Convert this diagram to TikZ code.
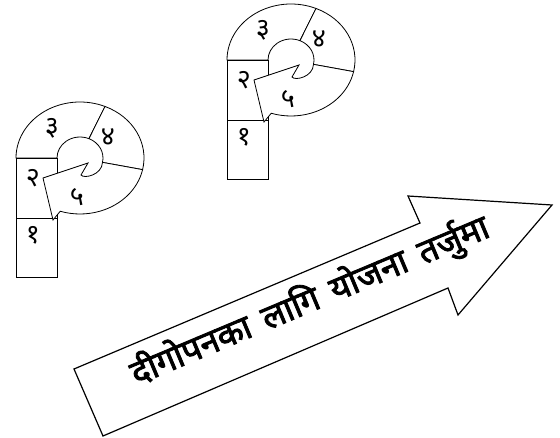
\documentclass[tikz,border=0pt]{standalone}
\usepackage{fontspec}
\newfontfamily\devfont[Script=Devanagari]{Noto Sans}
\newfontfamily\devboldfont[Script=Devanagari, FakeBold=2.5, WordSpace=1.6]{Noto Sans}

\begin{document}
\begin{tikzpicture}[
    x=1pt, y=1pt,
    ring/.style={draw, line width=0.8pt, fill=white},
    numlabel/.style={font=\devfont\fontsize{27}{27}\selectfont, inner sep=0pt},
    bigarrow/.style={draw, line width=1.2pt, fill=white, line join=miter},
    arrowtext/.style={font=\devboldfont\fontsize{34}{34}\selectfont, rotate=22.8}
  ]
  \useasboundingbox (0,0) rectangle (560,437);
  \foreach \pname/\cx/\cy in {left/80/279, right/291/377} {
    \begin{scope}[shift={(\cx,\cy)}]
      \draw[ring] (-64,0) rectangle (-23,-60);
      \draw[ring] (-64,-60) rectangle (-23,-119);
      \draw[ring] (180:64 and 56) arc[start angle=180, end angle=67, x radius=64, y radius=56]
        -- (67:23 and 21) arc[start angle=67, end angle=180, x radius=23, y radius=21] -- cycle;
      \draw[ring] (67:64 and 56) arc[start angle=67, end angle=-12, x radius=64, y radius=56]
        -- (-12:23 and 21) arc[start angle=-12, end angle=67, x radius=23, y radius=21] -- cycle;
      \draw[ring] (-12:64 and 56) arc[start angle=-12, end angle=-108, x radius=64, y radius=56]
        -- (-27,-62) -- (-37,-20) -- (8,-5) -- (1,-17)
        .. controls (4,-21) and (22,-17) .. (-12:23 and 21) -- cycle;
      \node[numlabel] (\pname-1) at (-47,-77) {१};
      \node[numlabel] (\pname-2) at (-47,-20) {२};
      \node[numlabel] (\pname-3) at (-28,30) {३};
      \node[numlabel] (\pname-4) at (28,21) {४};
      \node[numlabel] (\pname-5) at (-3,-39) {५};
    \end{scope}
  }
  \draw[bigarrow] (74,68) -- (420,214) -- (408,241) -- (552,232) -- (458,122)
    -- (448,149) -- (103,1) -- cycle;
  \node[arrowtext] (plan) at (310,136) {दीगोपनका लागि योजना तर्जुमा};
\end{tikzpicture}
\end{document}
